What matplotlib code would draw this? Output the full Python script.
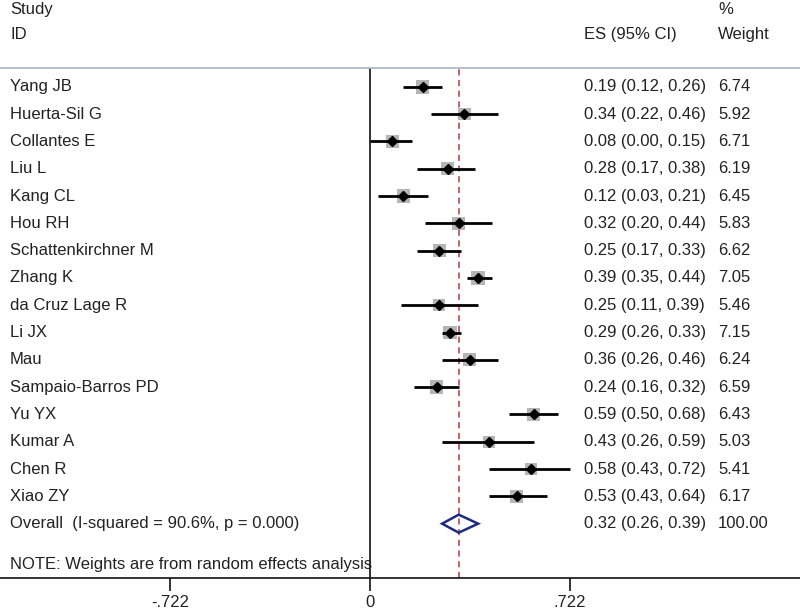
import numpy as np
import matplotlib.pyplot as plt
from matplotlib.patches import Polygon
import matplotlib.transforms as mtransforms

plt.rcParams['font.family'] = ['Liberation Sans', 'DejaVu Sans']

studies = ["Yang JB", "Huerta-Sil G", "Collantes E", "Liu L", "Kang CL", "Hou RH",
           "Schattenkirchner M", "Zhang K", "da Cruz Lage R", "Li JX", "Mau",
           "Sampaio-Barros PD", "Yu YX", "Kumar A", "Chen R", "Xiao ZY"]
es = [0.19, 0.34, 0.08, 0.28, 0.12, 0.32, 0.25, 0.39, 0.25, 0.29, 0.36, 0.24, 0.59, 0.43, 0.58, 0.53]
lo = [0.12, 0.22, 0.00, 0.17, 0.03, 0.20, 0.17, 0.35, 0.11, 0.26, 0.26, 0.16, 0.50, 0.26, 0.43, 0.43]
hi = [0.26, 0.46, 0.15, 0.38, 0.21, 0.44, 0.33, 0.44, 0.39, 0.33, 0.46, 0.32, 0.68, 0.59, 0.72, 0.64]
weights = [6.74, 5.92, 6.71, 6.19, 6.45, 5.83, 6.62, 7.05, 5.46, 7.15, 6.24, 6.59, 6.43, 5.03, 5.41, 6.17]

overall_es, overall_lo, overall_hi = 0.32, 0.26, 0.39
overall_weight = "100.00"
overall_label = "Overall  (I-squared = 90.6%, p = 0.000)"
note = "NOTE: Weights are from random effects analysis"
xticks = [-0.722, 0, 0.722]
xticklabels = ["-.722", "0", ".722"]

fig = plt.figure(figsize=(8, 6.11), dpi=100)
ax = fig.add_axes([0, 0.054, 1, 0.835])
ax.set_xlim(-1.336, 1.552)
ax.set_ylim(17.99, -0.696)

txt = '#222222'
fs = 12
tr = mtransforms.blended_transform_factory(ax.transAxes, ax.transData)

rows = np.arange(len(studies))
ax.axvline(0, color='#111111', lw=1.2)
ax.axvline(overall_es, color='#b03a3a', lw=1.1, ls=(0, (4, 3)))

# grey weight boxes, black point estimate, CI line
ax.scatter(es, rows, s=np.array(weights) * 14, marker='s', color='#a8a8a8', alpha=0.85, zorder=2, lw=0)
ax.hlines(rows, lo, hi, color='black', lw=2, zorder=3)
ax.plot(es, rows, 'D', color='black', ms=5.5, zorder=4)

r0 = len(studies)
dia = Polygon([(overall_lo, r0), (overall_es, r0 - 0.33), (overall_hi, r0), (overall_es, r0 + 0.33)],
              closed=True, fill=False, edgecolor='#1f2a80', lw=1.8, zorder=4)
ax.add_patch(dia)

for i, name in enumerate(studies):
    ax.text(0.0125, i, name, transform=tr, va='center', ha='left', fontsize=fs, color=txt)
    ax.text(0.73, i, f"{es[i]:.2f} ({lo[i]:.2f}, {hi[i]:.2f})", transform=tr,
            va='center', ha='left', fontsize=fs, color=txt)
    ax.text(0.8975, i, f"{weights[i]:.2f}", transform=tr, va='center', ha='left', fontsize=fs, color=txt)

ax.text(0.0125, r0, overall_label, transform=tr, va='center', fontsize=fs, color=txt)
ax.text(0.73, r0, f"{overall_es:.2f} ({overall_lo:.2f}, {overall_hi:.2f})", transform=tr,
        va='center', fontsize=fs, color=txt)
ax.text(0.8975, r0, overall_weight, transform=tr, va='center', fontsize=fs, color=txt)
ax.text(0.0125, 17.5, note, transform=tr, va='center', fontsize=fs, color=txt)

# headers
ax.text(0.0125, -2.82, "Study", transform=tr, va='center', fontsize=fs, color=txt, clip_on=False)
ax.text(0.0125, -1.91, "ID", transform=tr, va='center', fontsize=fs, color=txt, clip_on=False)
ax.text(0.73, -1.91, "ES (95% CI)", transform=tr, va='center', fontsize=fs, color=txt, clip_on=False)
ax.text(0.8975, -2.82, "%", transform=tr, va='center', fontsize=fs, color=txt, clip_on=False)
ax.text(0.8975, -1.91, "Weight", transform=tr, va='center', fontsize=fs, color=txt, clip_on=False)

for s in ['left', 'right']:
    ax.spines[s].set_visible(False)
ax.spines['top'].set_color('#a8b4c8')
ax.spines['top'].set_linewidth(1.2)
ax.spines['bottom'].set_color('#111111')
ax.spines['bottom'].set_linewidth(1.2)
ax.set_yticks([])
ax.set_xticks(xticks)
ax.set_xticklabels(xticklabels, fontsize=fs, color=txt)
ax.tick_params(axis='x', length=9, width=1.2, pad=3, color='#111111')

fig.savefig("out.png", dpi=100)
